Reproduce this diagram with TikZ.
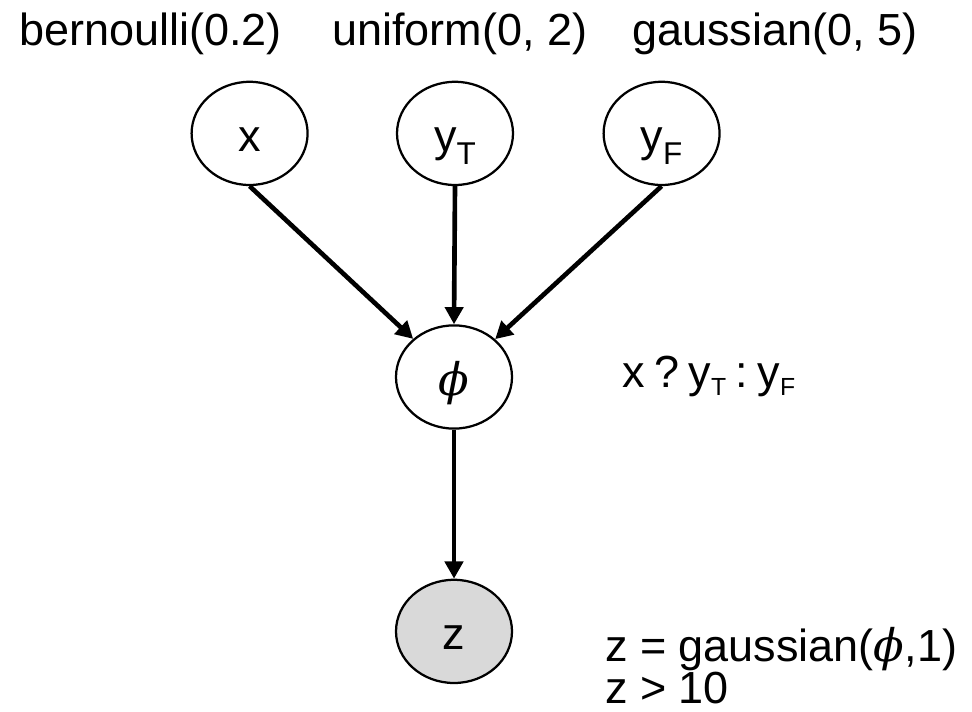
\documentclass[tikz,border=0pt]{standalone}
\usepackage{fontspec}
\setmainfont{Liberation Sans}
\newfontfamily\phifont{DejaVu Serif}
\usepackage{graphicx}
\usetikzlibrary{shapes.geometric,arrows.meta}

\definecolor{obsgray}{RGB}{217,217,217}
\newcommand{\nsub}[1]{\raisebox{-0.28em}{\scalebox{0.7}{#1}}}
\newcommand{\lsub}[1]{\raisebox{-0.17em}{\scalebox{0.55}{#1}}}
\newcommand{\phisym}{{\phifont\itshape\symbol{"03D5}}}
\newcommand{\gap}{\hspace{0.21em}}

\begin{document}
\begin{tikzpicture}[font=\fontsize{32}{38}\selectfont,
  var/.style={ellipse,draw,line width=1.6pt,minimum width=2.9cm,minimum height=2.58cm,inner sep=0pt,text height=0.95cm,text depth=0.03cm},
  obs/.style={var,fill=obsgray},
  link/.style={line width=3.3pt,-{Triangle[length=0.43cm,width=0.45cm]}},
  lbl/.style={anchor=base west,inner sep=0pt}]
\useasboundingbox (0,0) rectangle (24.3,17.775);
% priors
\node[lbl] (px) at (0.48,16.625) {bernoulli(0.2)};
\node[lbl] (pyt) at (8.3,16.625) {uniform(0, 2)};
\node[lbl] (pyf) at (15.8,16.625) {gaussian(0, 5)};
% variables
\node[var] (x) at (6.24,14.44) {x};
\node[var] (yt) at (11.375,14.44) {y\nsub{T}};
\node[var] (yf) at (16.54,14.44) {y\nsub{F}};
\node[var] (phi) at (11.35,8.35) {\phisym};
\node[obs] (z) at (11.35,1.99) {z};
% edges
\draw[link] (x.south) -- (phi);
\draw[link] (yt.south) -- (phi.north);
\draw[link] (yf.south) -- (phi);
\draw[link] (phi.south) -- (z.north);
% notes
\node[lbl] (cond) at (15.55,8.075) {x\gap?\gap y\lsub{T}\gap:\gap y\lsub{F}};
\node[lbl] (lik) at (15.12,1.25) {z = gaussian(\phisym,1)};
\node[lbl] (obsv) at (15.12,0.18) {z > 10};
\end{tikzpicture}
\end{document}
